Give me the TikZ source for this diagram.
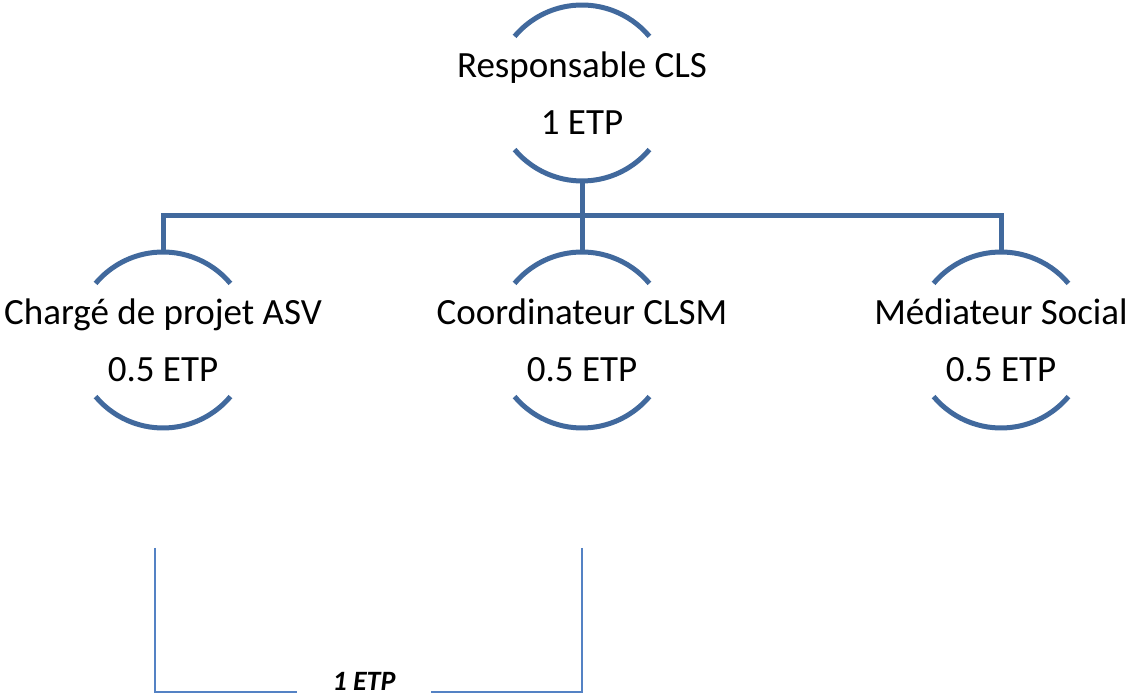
\documentclass[tikz,border=0pt]{standalone}
\usepackage{fontspec}
\setmainfont{Carlito}
\definecolor{arcblue}{RGB}{65,105,157}
\definecolor{linkblue}{RGB}{84,130,196}
\tikzset{
  role/.style={align=center, inner sep=0pt, font=\fontsize{37}{57}\selectfont},
  rolearc/.style={draw=arcblue, line width=5pt},
  link/.style={draw=arcblue, line width=5pt},
  bracket/.style={draw=linkblue, line width=2pt},
}
\begin{document}
\begin{tikzpicture}[x=1pt,y=1pt]
  \useasboundingbox (0,0) rectangle (1129,698);

  \node[role] (resp) at (582,605) {Responsable CLS\\1 ETP};
  \node[role] (asv) at (163,358) {Chargé de projet ASV\\0.5 ETP};
  \node[role] (clsm) at (582,358) {Coordinateur CLSM\\0.5 ETP};
  \node[role] (med) at (1001,358) {Médiateur Social\\0.5 ETP};

  \foreach \n in {resp,asv,clsm,med} {
    \draw[rolearc] ([shift={(40:88pt)}]\n.center) arc (40:140:88pt);
    \draw[rolearc] ([shift={(220:88pt)}]\n.center) arc (220:320:88pt);
    \coordinate (\n-top) at ([yshift=88pt]\n.center);
    \coordinate (\n-bot) at ([yshift=-88pt]\n.center);
  }

  \draw[link] (resp-bot) -- (clsm-top);
  \draw[link] (asv-top) -- ++(0,36) -| (med-top);

  \coordinate (asv-foot) at (155,150);
  \coordinate (clsm-foot) at (582,150);
  \coordinate (asv-corner) at (155,6);
  \coordinate (clsm-corner) at (582,6);
  \node[inner sep=0pt, minimum width=134pt, font=\fontsize{28}{34}\selectfont\bfseries\itshape] (total) at (364,17) {1 ETP};

  \draw[bracket] (asv-foot) -- (asv-corner) -- (asv-corner -| total.west);
  \draw[bracket] (clsm-foot) -- (clsm-corner) -- (clsm-corner -| total.east);
\end{tikzpicture}
\end{document}
